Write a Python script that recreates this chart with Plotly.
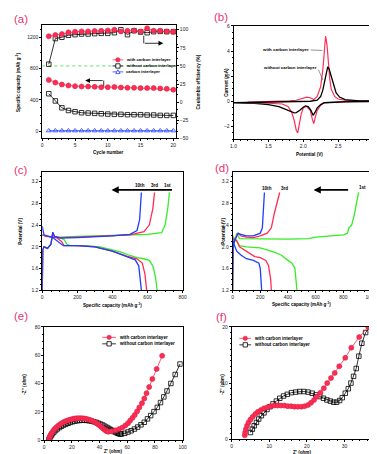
import plotly.graph_objects as go

W, H = 377, 454
RED = "#ff2d55"
REDE = "#d8203f"
GREEN = "#33ee22"
BLUE = "#1f3cff"
LBL = "#e8336e"

# ---------------- (a) cycling data ----------------
cycles = list(range(1, 21))
cap_with = [655, 621, 596, 583, 575, 571, 571, 567, 562, 562, 565, 558, 554, 554, 550, 550, 550, 546, 541, 529]
cap_without = [478, 386, 298, 264, 248, 235, 231, 227, 222, 218, 214, 214, 210, 210, 210, 206, 206, 201, 201, 201]
cap_carbon = [5, 5, 5, 5, 5, 5, 5, 5, 5, 5, 5, 5, 5, 5, 5, 5, 5, 5, 5, 5]
ce_with = [91, 92.8, 94, 96.4, 97.3, 97.7, 97.7, 98.2, 98.6, 99, 100, 97.7, 98.6, 99, 97.7, 102, 98.6, 98.6, 97.7, 97.3]
ce_without = [52.4, 87.8, 89.6, 92.3, 93.2, 94.1, 94.1, 94.6, 95, 95, 95.9, 100, 93.2, 98.6, 96.8, 95.9, 97.3, 97.7, 97.3, 97.3]
ce_ref = [50, 50]
ce_ref_x = [0, 20.5]

# ---------------- (b) CV data ----------------
cv_red_v = [1.2, 1.4, 1.6, 1.8, 1.9, 2.0, 2.05, 2.1, 2.15, 2.2, 2.25, 2.28, 2.3, 2.32, 2.34, 2.36, 2.38, 2.4, 2.45, 2.5, 2.6, 2.8, 3.0,
            3.0, 2.8, 2.6, 2.4, 2.3, 2.25, 2.2, 2.17, 2.15, 2.13, 2.1, 2.05, 2.0, 1.97, 1.94, 1.92, 1.9, 1.87, 1.83, 1.78, 1.7, 1.5, 1.3, 1.2]
cv_red_i = [-0.05, -0.03, 0.0, 0.05, 0.1, 0.25, 0.35, 0.3, 0.15, 0.4, 1.2, 2.5, 4.0, 5.2, 4.5, 3.0, 1.8, 1.0, 0.4, 0.2, 0.1, 0.05, 0.05,
            0.03, 0.0, -0.02, -0.05, -0.1, -0.3, -0.7, -1.3, -1.75, -1.4, -0.7, -0.4, -0.5, -1.0, -2.0, -2.5, -2.3, -1.5, -0.8, -0.4, -0.2, -0.12, -0.07, -0.05]
cv_blk_v = [1.0, 1.5, 2.0, 2.1, 2.2, 2.25, 2.28, 2.31, 2.33, 2.35, 2.37, 2.4, 2.43, 2.47, 2.52, 2.6, 2.8, 3.0,
            3.0, 2.6, 2.4, 2.3, 2.25, 2.2, 2.17, 2.14, 2.11, 2.07, 2.03, 2.0, 1.95, 1.9, 1.87, 1.82, 1.75, 1.65, 1.5, 1.3, 1.0]
cv_blk_i = [-0.1, -0.05, 0.0, 0.02, 0.1, 0.4, 0.9, 1.8, 2.4, 2.75, 2.6, 2.0, 1.3, 0.7, 0.35, 0.15, 0.05, 0.05,
            0.0, -0.02, -0.05, -0.1, -0.25, -0.5, -0.85, -1.1, -0.7, -0.4, -0.35, -0.45, -0.7, -0.88, -0.9, -0.8, -0.6, -0.4, -0.25, -0.15, -0.1]

# ---------------- (c) charge/discharge with interlayer ----------------
c1_dis_q = [0, 20, 60, 100, 125, 140, 160, 250, 330, 400, 450, 500, 540, 580, 610, 630, 645, 655]
c1_dis_v = [2.22, 2.2, 2.18, 2.17, 2.13, 2.05, 2.02, 2.02, 2.0, 1.95, 1.9, 1.84, 1.8, 1.78, 1.75, 1.65, 1.45, 1.2]
c1_chg_q = [0, 3, 10, 30, 50, 60, 70, 100, 200, 400, 600, 680, 700, 715, 725]
c1_chg_v = [1.2, 1.95, 2.0, 1.98, 2.05, 2.24, 2.19, 2.18, 2.19, 2.21, 2.23, 2.26, 2.4, 2.7, 3.0]
c3_dis_q = [0, 20, 80, 110, 125, 200, 300, 400, 480, 540, 570, 585, 595]
c3_dis_v = [2.22, 2.19, 2.17, 2.1, 2.02, 2.02, 2.0, 1.92, 1.83, 1.78, 1.7, 1.5, 1.2]
c3_chg_q = [0, 3, 10, 30, 50, 60, 70, 100, 200, 400, 500, 580, 610, 630, 640]
c3_chg_v = [1.2, 1.95, 2.0, 1.97, 2.05, 2.26, 2.19, 2.17, 2.18, 2.2, 2.22, 2.28, 2.4, 2.7, 3.0]
c10_dis_q = [0, 10, 60, 100, 120, 200, 300, 400, 470, 530, 550, 560, 565]
c10_dis_v = [2.38, 2.22, 2.17, 2.08, 2.02, 2.02, 2.0, 1.92, 1.83, 1.76, 1.65, 1.4, 1.2]
c10_chg_q = [0, 3, 10, 30, 50, 60, 70, 100, 200, 400, 500, 540, 555, 565]
c10_chg_v = [1.2, 1.95, 2.0, 1.97, 2.05, 2.27, 2.19, 2.16, 2.17, 2.2, 2.23, 2.3, 2.5, 3.0]

# ---------------- (d) charge/discharge without interlayer ----------------
d1_dis_q = [0, 20, 50, 100, 200, 300, 350, 400, 430, 450, 460, 465]
d1_dis_v = [2.2, 2.12, 2.02, 2.0, 1.98, 1.9, 1.85, 1.75, 1.7, 1.6, 1.4, 1.2]
d1_chg_q = [0, 3, 20, 30, 50, 200, 400, 550, 600, 800, 830, 840, 860, 880, 900, 910]
d1_chg_v = [1.2, 2.05, 2.12, 2.25, 2.15, 2.14, 2.14, 2.15, 2.18, 2.22, 2.25, 2.35, 2.4, 2.6, 2.85, 3.0]
d3_dis_q = [0, 30, 50, 80, 120, 160, 200, 240, 260, 275, 280]
d3_dis_v = [2.15, 2.12, 2.0, 1.95, 1.88, 1.82, 1.8, 1.75, 1.65, 1.4, 1.2]
d3_chg_q = [0, 3, 20, 40, 60, 100, 150, 200, 250, 280, 300, 320, 340]
d3_chg_v = [1.2, 2.05, 2.15, 2.25, 2.2, 2.18, 2.17, 2.2, 2.25, 2.35, 2.6, 2.8, 3.0]
d10_dis_q = [0, 10, 30, 60, 100, 150, 190, 200, 205, 210]
d10_dis_v = [2.15, 2.05, 1.92, 1.85, 1.78, 1.75, 1.7, 1.6, 1.4, 1.2]
d10_chg_q = [0, 3, 20, 40, 60, 100, 150, 200, 215, 220, 225, 230]
d10_chg_v = [1.2, 2.0, 2.15, 2.25, 2.23, 2.2, 2.2, 2.25, 2.35, 2.6, 2.8, 3.0]

# ---------------- (e) EIS ----------------
e_red_x = [3.5, 3.8, 4.2, 4.8, 5.5, 6.3, 7.2, 8.2, 9.3, 10.5, 11.8, 13.1, 14.5, 15.9, 17.3, 18.8, 20.3, 21.8, 23.3, 24.8,
           26.3, 27.8, 29.3, 30.8, 32.3, 33.7, 35.1, 36.5, 37.8, 39.1, 40.3, 41.5, 42.6, 43.6, 44.5, 45.4, 46.4, 48.7,
           51.5, 54.1, 56.5, 58.6, 60.5, 62.1, 63.8, 65.4, 67.1, 68.7, 70.6, 72.3, 73.9, 75.8, 78.1, 81.2, 85.2]
e_red_y = [0.5, 1.6, 2.8, 4.0, 5.2, 6.4, 7.5, 8.6, 9.6, 10.6, 11.5, 12.3, 13.0, 13.6, 14.1, 14.6, 15.0, 15.3, 15.5, 15.6,
           15.6, 15.5, 15.3, 15.0, 14.6, 14.1, 13.5, 12.8, 12.0, 11.1, 10.2, 9.2, 8.3, 7.5, 6.8, 6.3, 6.0, 6.3,
           7.0, 7.9, 9.0, 10.4, 12.0, 13.9, 15.8, 17.9, 20.4, 23.2, 26.2, 29.4, 33.2, 37.6, 43.3, 50.3, 59.6]
e_blk_x = [3.5, 3.9, 4.5, 5.2, 6.0, 7.0, 8.2, 9.5, 11.0, 12.5, 14.0, 15.6, 17.2, 18.8, 20.5, 22.2, 23.9, 25.6, 27.3, 29.0,
           30.7, 32.4, 34.1, 35.8, 37.5, 39.1, 40.7, 42.3, 43.8, 45.3, 46.7, 48.1, 49.4, 50.6, 51.8, 52.9, 53.9, 54.9,
           55.8, 58.2, 60.5, 62.8, 65.2, 67.5, 69.9, 72.3, 74.6, 76.9, 79.3, 81.7, 84.0, 86.4, 88.7, 91.5, 94.6, 98.1]
e_blk_y = [0.4, 1.4, 2.5, 3.6, 4.7, 5.8, 6.9, 8.0, 9.0, 9.9, 10.7, 11.4, 12.0, 12.6, 13.1, 13.5, 13.8, 14.0, 14.1, 14.1,
           14.0, 13.8, 13.5, 13.1, 12.6, 12.0, 11.4, 10.7, 9.9, 9.1, 8.3, 7.5, 6.8, 6.1, 5.5, 5.0, 4.6, 4.4,
           4.4, 4.9, 5.8, 6.7, 7.9, 9.3, 10.9, 12.7, 15.1, 17.4, 20.2, 23.2, 26.6, 30.6, 34.8, 40.1, 46.4, 53.8]

# ---------------- (f) EIS ----------------
f_red_x = [3.5, 3.6, 3.8, 4.1, 4.5, 5.0, 5.6, 6.3, 7.0, 7.8, 8.6, 9.5, 10.4, 11.3, 12.2, 13.1, 14.0, 14.9, 15.8, 16.7,
           17.6, 18.5, 19.4, 20.3, 21.1, 21.9, 22.7, 23.6, 24.5, 25.4, 26.4, 27.4, 28.6, 30.2, 31.8, 33.9, 36.3]
f_red_y = [0.7, 1.2, 1.8, 2.4, 3.0, 3.5, 4.0, 4.5, 4.9, 5.2, 5.5, 5.7, 5.9, 6.0, 6.0, 6.0, 6.0, 5.9, 5.9, 5.8,
           5.8, 5.8, 5.9, 6.1, 6.5, 7.0, 7.6, 8.3, 9.1, 10.0, 10.9, 11.8, 13.0, 14.5, 16.3, 18.2, 20.0]
f_blk_x = [5.0, 5.5, 6.0, 6.6, 7.2, 7.9, 8.6, 9.4, 10.2, 11.0, 11.9, 12.8, 13.8, 14.8, 15.9, 17.0, 18.1, 19.2, 20.3, 21.4,
           22.4, 23.4, 24.4, 25.3, 26.2, 27.1, 27.9, 28.7, 29.4, 30.2, 31.0, 31.7, 32.4, 33.1, 33.8, 34.6, 35.6, 36.8]
f_blk_y = [1.2, 1.8, 2.4, 3.0, 3.6, 4.2, 4.7, 5.3, 5.8, 6.3, 6.8, 7.3, 7.7, 8.0, 8.3, 8.4, 8.5, 8.5, 8.4, 8.2,
           7.9, 7.6, 7.3, 7.0, 6.8, 6.6, 6.6, 6.9, 7.4, 8.2, 9.0, 10.0, 11.2, 12.6, 14.8, 17.1, 19.0, 20.0]


def fx(p):
    return p / W


def fy(p):
    return 1 - p / H


fig = go.Figure()

# (a)
fig.add_trace(go.Scatter(x=ce_ref_x, y=ce_ref, xaxis="x", yaxis="y7", mode="lines",
                         line=dict(color="#33dd33", width=0.8, dash="dot"), showlegend=False))
fig.add_trace(go.Scatter(x=cycles, y=cap_carbon, xaxis="x", yaxis="y", mode="lines+markers",
                         line=dict(color=BLUE, width=0.8),
                         marker=dict(symbol="triangle-up-open", size=4.5, color=BLUE, line=dict(width=0.8)),
                         showlegend=False))
fig.add_trace(go.Scatter(x=cycles, y=cap_without, xaxis="x", yaxis="y", mode="lines+markers",
                         line=dict(color="black", width=0.8),
                         marker=dict(symbol="square-open", size=4.5, color="black", line=dict(width=0.8)),
                         showlegend=False))
fig.add_trace(go.Scatter(x=cycles, y=cap_with, xaxis="x", yaxis="y", mode="lines+markers",
                         line=dict(color=RED, width=0.8),
                         marker=dict(symbol="circle", size=5, color=RED, line=dict(color=REDE, width=0.6)),
                         showlegend=False))
fig.add_trace(go.Scatter(x=cycles, y=ce_without, xaxis="x", yaxis="y7", mode="lines+markers",
                         line=dict(color="black", width=0.8),
                         marker=dict(symbol="square-open", size=4.5, color="black", line=dict(width=0.8)),
                         showlegend=False))
fig.add_trace(go.Scatter(x=cycles, y=ce_with, xaxis="x", yaxis="y7", mode="lines+markers",
                         line=dict(color=RED, width=0.8),
                         marker=dict(symbol="circle", size=5, color=RED, line=dict(color=REDE, width=0.6)),
                         showlegend=False))

# (b)
fig.add_trace(go.Scatter(x=cv_red_v, y=cv_red_i, xaxis="x2", yaxis="y2", mode="lines",
                         line=dict(color=RED, width=1.2), showlegend=False))
fig.add_trace(go.Scatter(x=cv_blk_v, y=cv_blk_i, xaxis="x2", yaxis="y2", mode="lines",
                         line=dict(color="black", width=1.3), showlegend=False))

# (c)
for q, v, col in [(c1_dis_q, c1_dis_v, GREEN), (c1_chg_q, c1_chg_v, GREEN),
                  (c3_dis_q, c3_dis_v, RED), (c3_chg_q, c3_chg_v, RED),
                  (c10_dis_q, c10_dis_v, BLUE), (c10_chg_q, c10_chg_v, BLUE)]:
    fig.add_trace(go.Scatter(x=q, y=v, xaxis="x3", yaxis="y3", mode="lines",
                             line=dict(color=col, width=1.3), showlegend=False))

# (d)
for q, v, col in [(d1_dis_q, d1_dis_v, GREEN), (d1_chg_q, d1_chg_v, GREEN),
                  (d3_dis_q, d3_dis_v, RED), (d3_chg_q, d3_chg_v, RED),
                  (d10_dis_q, d10_dis_v, BLUE), (d10_chg_q, d10_chg_v, BLUE)]:
    fig.add_trace(go.Scatter(x=q, y=v, xaxis="x4", yaxis="y4", mode="lines",
                             line=dict(color=col, width=1.3), showlegend=False))

# (e)
fig.add_trace(go.Scatter(x=e_blk_x, y=e_blk_y, xaxis="x5", yaxis="y5", mode="lines+markers",
                         line=dict(color="black", width=0.8),
                         marker=dict(symbol="square-open", size=4.5, color="black", line=dict(width=0.8)),
                         showlegend=False))
fig.add_trace(go.Scatter(x=e_red_x, y=e_red_y, xaxis="x5", yaxis="y5", mode="lines+markers",
                         line=dict(color=RED, width=0.8),
                         marker=dict(symbol="circle", size=5, color=RED, line=dict(color=REDE, width=0.6)),
                         showlegend=False))
# (f)
fig.add_trace(go.Scatter(x=f_blk_x, y=f_blk_y, xaxis="x6", yaxis="y6", mode="lines+markers",
                         line=dict(color="black", width=0.8),
                         marker=dict(symbol="square-open", size=4.5, color="black", line=dict(width=0.8)),
                         showlegend=False, cliponaxis=True))
fig.add_trace(go.Scatter(x=f_red_x, y=f_red_y, xaxis="x6", yaxis="y6", mode="lines+markers",
                         line=dict(color=RED, width=0.8),
                         marker=dict(symbol="circle", size=5, color=RED, line=dict(color=REDE, width=0.6)),
                         showlegend=False, cliponaxis=True))

dom = {
    1: ((32, 169), (14, 129)),
    2: ((228, 371), (15, 130)),
    3: ((32, 176), (163, 283)),
    4: ((227, 369), (163, 283)),
    5: ((34, 176), (320, 435)),
    6: ((226, 371), (320, 434)),
}

TF = dict(size=5, color="#222", family="Liberation Sans, Arial")
base = dict(showline=True, linecolor="black", linewidth=0.8, mirror=True, ticks="outside",
            ticklen=2, tickwidth=0.6, tickcolor="black", tickfont=TF, showgrid=False, zeroline=False,
            ticklabeloverflow="allow",
            minor=dict(ticks="outside", ticklen=1, tickwidth=0.5, tickcolor="black"))

xr = {1: [0, 20.4], 2: [1.0, 3.002], 3: [0, 801], 4: [0, 1001], 5: [0, 100.1], 6: [0, 37.6]}
yr = {1: [-92, 1360], 2: [-3, 6.01], 3: [1.2, 3.38], 4: [1.2, 3.38], 5: [0, 80.1], 6: [0, 20.03]}
xt = {1: [0, 5, 10, 15, 20], 2: [1.0, 1.5, 2.0, 2.5, 3.0], 3: [0, 200, 400, 600, 800],
      4: [0, 200, 400, 600, 800, 1000], 5: [0, 20, 40, 60, 80, 100], 6: [0, 10, 20, 30]}
yt = {1: [0, 400, 800, 1200], 2: [-2, 0, 2, 4, 6], 3: [1.2, 1.6, 2.0, 2.4, 2.8, 3.2],
      4: [1.2, 1.6, 2.0, 2.4, 2.8, 3.2], 5: [0, 20, 40, 60, 80], 6: [0, 10, 20]}
xfmt = {2: ".1f"}
yfmt = {3: ".1f", 4: ".1f"}

lay = {}
for i in range(1, 7):
    (x0, x1), (y0, y1) = dom[i]
    s = "" if i == 1 else str(i)
    xa = dict(base, domain=[fx(x0), fx(x1)], range=xr[i], tickvals=xt[i], anchor="y" + s)
    if i in xfmt:
        xa["tickformat"] = xfmt[i]
    ya = dict(base, domain=[fy(y1), fy(y0)], range=yr[i], tickvals=yt[i], anchor="x" + s)
    if i in yfmt:
        ya["tickformat"] = yfmt[i]
    if i == 1:
        ya["mirror"] = False
    lay["xaxis" + s] = xa
    lay["yaxis" + s] = ya
lay["yaxis7"] = dict(base, overlaying="y", side="right", anchor="x", range=[-50, 106.8],
                     tickvals=[-50, -25, 0, 25, 50, 75, 100], mirror=False)

fig.update_layout(**lay)

ann = []
shapes = []


def text(x, y, t, size=4.6, bold=True, angle=0, color="black", xanchor="center", yanchor="middle"):
    ann.append(dict(x=fx(x), y=fy(y), xref="paper", yref="paper", text=("<b>%s</b>" % t) if bold else t,
                    showarrow=False, textangle=angle, xanchor=xanchor, yanchor=yanchor,
                    font=dict(size=size, color=color, family="Liberation Sans, Arial")))


def line(x0, y0, x1, y1, color="black", width=0.8):
    shapes.append(dict(type="line", xref="paper", yref="paper", x0=fx(x0), y0=fy(y0), x1=fx(x1), y1=fy(y1),
                       line=dict(color=color, width=width)))


def arrow(xt_, yt_, xs, ys, width=0.8, head=2, size=1.0):
    ann.append(dict(x=fx(xt_), y=fy(yt_), xref="paper", yref="paper", ax=xs - xt_, ay=ys - yt_,
                    axref="pixel", ayref="pixel", text=" ", showarrow=True, arrowhead=head,
                    arrowwidth=width, arrowsize=size, arrowcolor="black", font=dict(size=1)))


def legend_entry(x, y, kind, label, L=12, size=4.4):
    col = RED if kind == "circle" else ("black" if kind == "square" else BLUE)
    line(x, y, x + L, y, color=col, width=0.8)
    cx = x + L / 2
    r = 2.2
    if kind == "circle":
        shapes.append(dict(type="circle", xref="paper", yref="paper", x0=fx(cx - r), x1=fx(cx + r),
                           y0=fy(y + r), y1=fy(y - r), fillcolor=RED, line=dict(color=REDE, width=0.6)))
    elif kind == "square":
        shapes.append(dict(type="rect", xref="paper", yref="paper", x0=fx(cx - r), x1=fx(cx + r),
                           y0=fy(y + r), y1=fy(y - r), fillcolor="white", line=dict(color="black", width=0.8)))
    else:
        p = "M %f %f L %f %f L %f %f Z" % (fx(cx - r), fy(y + r * 0.8), fx(cx + r), fy(y + r * 0.8), fx(cx), fy(y - r))
        shapes.append(dict(type="path", xref="paper", yref="paper", path=p, fillcolor="white",
                           line=dict(color=BLUE, width=0.8)))
    text(x + L + 1, y, label, size=size, xanchor="left")


# panel labels
for (lx, ly, t) in [(1, 8, "(a)"), (206, 6, "(b)"), (1, 161, "(c)"), (207, 159, "(d)"), (1, 309, "(e)"), (208, 310, "(f)")]:
    text(lx, ly, t, size=11.5, bold=False, color=LBL, xanchor="left")

# axis titles
text(7, 72, "Specific capacity (mAh g<sup>-1</sup>)", angle=-90)
text(100, 143, "Cycle number")
text(192, 72, "Coulombic efficiency (%)", angle=-90)
text(220, 72, "Current (mA)", angle=-90)
text(306, 145, "Potential (V)")
text(9, 223, "Potential (V)", angle=-90)
text(104, 298, "Specific capacity (mAh g<sup>-1</sup>)")
text(217, 223, "Potential (V)", angle=-90)
text(298, 297, "Specific capacity (mAh g<sup>-1</sup>)")
text(13, 378, "-Z'' (ohm)", angle=-90)
text(104, 446, "Z' (ohm)")
text(216, 378, "-Z'' (ohm)", angle=-90)
text(298, 447, "Z' (ohm)")

# (a) legend and arrows
legend_entry(104, 49.5, "circle", "with carbon interlayer", L=11, size=4.2)
legend_entry(104, 55.7, "square", "without carbon interlayer", L=11, size=4.2)
legend_entry(104, 61.7, "triangle", "carbon interlayer", L=11, size=4.2)
line(136, 25, 136, 32.7)
arrow(156, 32.7, 136, 32.7, width=0.8, head=2, size=1.2)
line(95, 76, 95, 70.5)
arrow(76, 70.5, 95, 70.5, width=0.8, head=2, size=1.2)

# (b) annotations
text(281, 39.3, "with carbon interlayer", size=4.4)
line(307, 39.5, 319, 40, color="#777", width=0.8)
text(285.5, 57.3, "without carbon interlayer", size=4.4)
line(315, 59.5, 319.5, 70, color="#555", width=0.6)

# (c) annotations
text(132, 177, "10th", size=4.6)
text(147, 177, "3rd", size=4.6)
text(160, 177, "1st", size=4.6)
arrow(103, 181.3, 165, 181.3, width=1.6, head=2, size=0.9)

# (d) annotations
text(262, 180, "10th", size=4.6)
text(280, 180, "3rd", size=4.6)
text(360, 178.5, "1st", size=4.6)
arrow(310, 181.3, 346, 181.3, width=1.6, head=2, size=0.9)

# (e),(f) legends
legend_entry(93.5, 330.7, "circle", "with carbon interlayer", L=14, size=4.6)
legend_entry(93.5, 337.3, "square", "without carbon interlayer", L=14, size=4.6)
legend_entry(234, 331.7, "circle", "with carbon interlayer", L=12, size=4.6)
legend_entry(234, 338.3, "square", "without carbon interlayer", L=12, size=4.6)

fig.update_layout(width=W, height=H, autosize=False, margin=dict(l=0, r=0, t=0, b=0),
                  paper_bgcolor="white", plot_bgcolor="white", showlegend=False,
                  annotations=ann, shapes=shapes,
                  font=dict(family="Liberation Sans, Arial", size=5))

fig.write_html("out.html")
